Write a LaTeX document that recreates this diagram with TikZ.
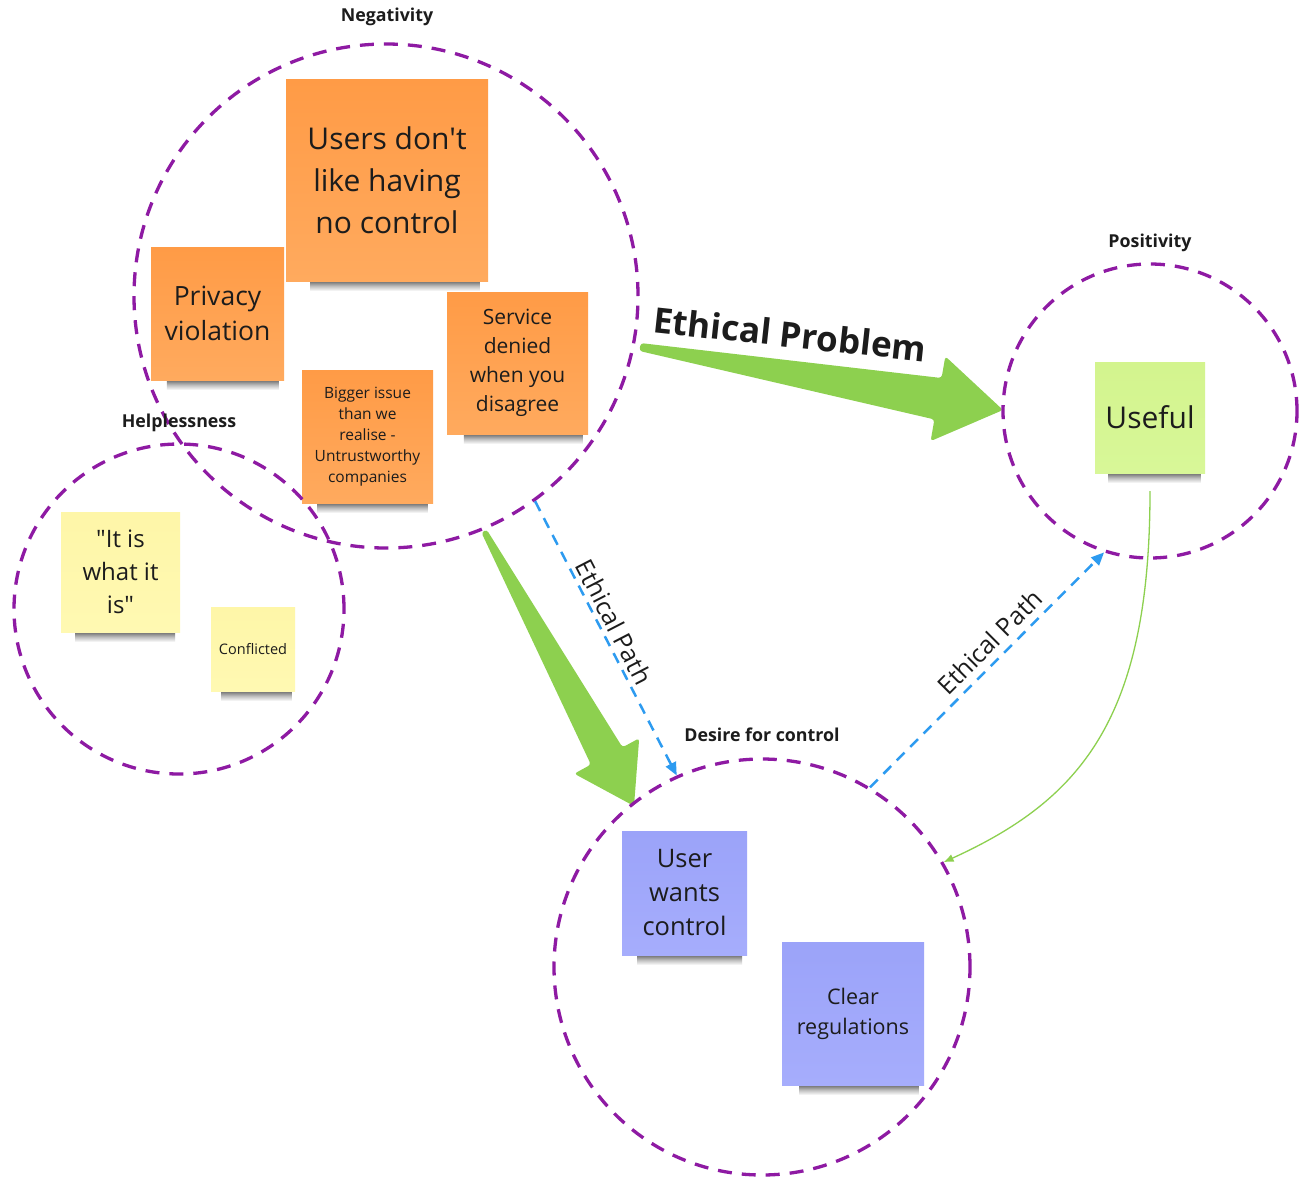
\documentclass[tikz,border=0pt]{standalone}
\usepackage{fontspec}
\setmainfont{Open Sans}
\newfontfamily\osans{Open Sans}
\usetikzlibrary{calc,arrows.meta}

\definecolor{circpurple}{RGB}{142,26,163}
\definecolor{noteorange}{RGB}{255,155,70}
\definecolor{noteorangeB}{RGB}{255,170,94}
\definecolor{noteyellow}{RGB}{254,246,168}
\definecolor{noteyellowB}{RGB}{255,249,178}
\definecolor{notegreen}{RGB}{211,244,142}
\definecolor{notegreenB}{RGB}{216,247,152}
\definecolor{noteblue}{RGB}{155,163,249}
\definecolor{noteblueB}{RGB}{166,173,252}
\definecolor{arrowgreen}{RGB}{141,208,79}
\definecolor{pathblue}{RGB}{45,155,240}
\definecolor{inktext}{RGB}{28,28,28}
\definecolor{shadowgray}{RGB}{110,110,110}

\newcommand\fsz[2]{\osans\fontsize{#1}{#2}\selectfont}

% big tapered block arrow: tail, tip, head length, head half-width, body half-width, tail half-width
\newcommand\fatarrow[6]{%
  \coordinate (fa-q) at ($(#2)!#3!(#1)$);
  \fill[arrowgreen, rounded corners=3pt]
    ($(#1)!#6!90:(#2)$)
    -- ($(fa-q)!#5!-90:(#1)$)
    -- ($(fa-q)!#4!-90:(#1)$)
    -- (#2)
    -- ($(fa-q)!#4!90:(#1)$)
    -- ($(fa-q)!#5!90:(#1)$)
    -- ($(#1)!#6!-90:(#2)$) -- cycle;
}

% sticky note: name, x, y (centre), width, height, style, text
\newcommand\stickynote[7]{%
  \shade[noteshadow] ({#2-#4/2+0.12*#4},{#3+#5/2}) rectangle ({#2+#4/2-0.04*#4},{#3+#5/2+10});
  \node[note, minimum width=#4pt, minimum height=#5pt, #6] (#1) at (#2,#3) {#7};
}

\tikzset{
  grp/.style={circle, draw=circpurple, line width=3.3pt,
    dash pattern=on 14pt off 10pt, inner sep=0pt, minimum size=#1},
  grplabel/.style={font=\fsz{17.8}{21}\bfseries, text=inktext},
  note/.style={inner sep=0pt, align=center, text=inktext},
  noteshadow/.style={top color=shadowgray, bottom color=white, middle color=black!25},
  orangenote/.style={top color=noteorange, bottom color=noteorangeB},
  yellownote/.style={top color=noteyellow, bottom color=noteyellowB},
  greennote/.style={top color=notegreen, bottom color=notegreenB},
  bluenote/.style={top color=noteblue, bottom color=noteblueB},
  ethpath/.style={draw=pathblue, line width=2.5pt, dash pattern=on 11pt off 8pt,
    -{Triangle[length=13pt,width=11pt]}},
  pathlabel/.style={font=\fsz{25}{30}, text=inktext, sloped, above, inner sep=4pt},
}

\begin{document}
\begin{tikzpicture}[x=1pt,y=-1pt]
\useasboundingbox (0,0) rectangle (1308,1178);
\fill[white] (0,0) rectangle (1308,1178);

% sticky notes
\stickynote{n1}{387}{180}{202}{202}{orangenote, font=\fsz{30}{42}}{Users don't\\like having\\no control}
\stickynote{n2}{217.5}{313.5}{133}{133}{orangenote, font=\fsz{26.5}{35}}{Privacy\\violation}
\stickynote{n3}{517.5}{363}{141}{142}{orangenote, font=\fsz{21}{29}}{Service\\denied\\when you\\disagree}
\stickynote{n4}{367.5}{436.5}{131}{133}{orangenote, font=\fsz{15.5}{21}}{Bigger issue\\than we\\realise -\\Untrustworthy\\companies}
\stickynote{n5}{120.5}{572}{119}{120}{yellownote, font=\fsz{24}{33}}{"It is\\what it\\is"}
\stickynote{n6}{253}{649}{84}{84}{yellownote, font=\fsz{14.5}{17}}{Conflicted}
\stickynote{n7}{1150}{417.5}{110}{111}{greennote, font=\fsz{30}{36}}{Useful}
\stickynote{n8}{684.5}{893}{125}{124}{bluenote, font=\fsz{25.5}{34}}{User\\wants\\control}
\stickynote{n9}{853}{1013.5}{142}{143}{bluenote, font=\fsz{21.5}{30}}{Clear\\regulations}

% group circle centres
\path (386,296) coordinate (negc) (179,609) coordinate (helpc)
      (1150,411) coordinate (posc) (762,967) coordinate (desc);

% connector end points
\coordinate (epTail) at (640,347);
\coordinate (epTip) at (1003,410);
\coordinate (dnTail) at (484,531);
\coordinate (dnTip) at (634,806);

% big green arrows
\fatarrow{epTail}{epTip}{66pt}{43pt}{21pt}{4pt}
\fatarrow{dnTail}{dnTip}{57pt}{37pt}{18pt}{3pt}

\node[font=\fsz{35}{40}\bfseries, text=inktext, rotate=-6.2] (ethprob) at (790,334) {Ethical Problem};

% circles
\node[grp=504pt] (neg) at (negc) {};
\node[grp=330pt] (help) at (helpc) {};
\node[grp=294pt] (pos) at (posc) {};
\node[grp=416pt] (desire) at (desc) {};

% blue ethical paths
\draw[ethpath] (neg.-54.6) -- (desire.114.5) node[pathlabel, pos=0.465] {Ethical Path};
\draw[ethpath] (desire.59.3) -- (pos.-108.8) node[pathlabel, pos=0.565, inner sep=7pt] {Ethical Path};

% thin green curve
\coordinate (gStart) at ($(n7.south)+(0,18)$);
\draw[arrowgreen, line width=1.3pt, -{Latex[length=10pt,width=8pt]}]
  (gStart) .. controls (1150,720) and (1080,800) .. (desire.30.3);

% labels
\node[grplabel] (lneg) at (387,17) {Negativity};
\node[grplabel] (lhelp) at (179,423) {Helplessness};
\node[grplabel] (lpos) at (1150,243) {Positivity};
\node[grplabel] (ldes) at (762,735) {Desire for control};
\end{tikzpicture}
\end{document}
